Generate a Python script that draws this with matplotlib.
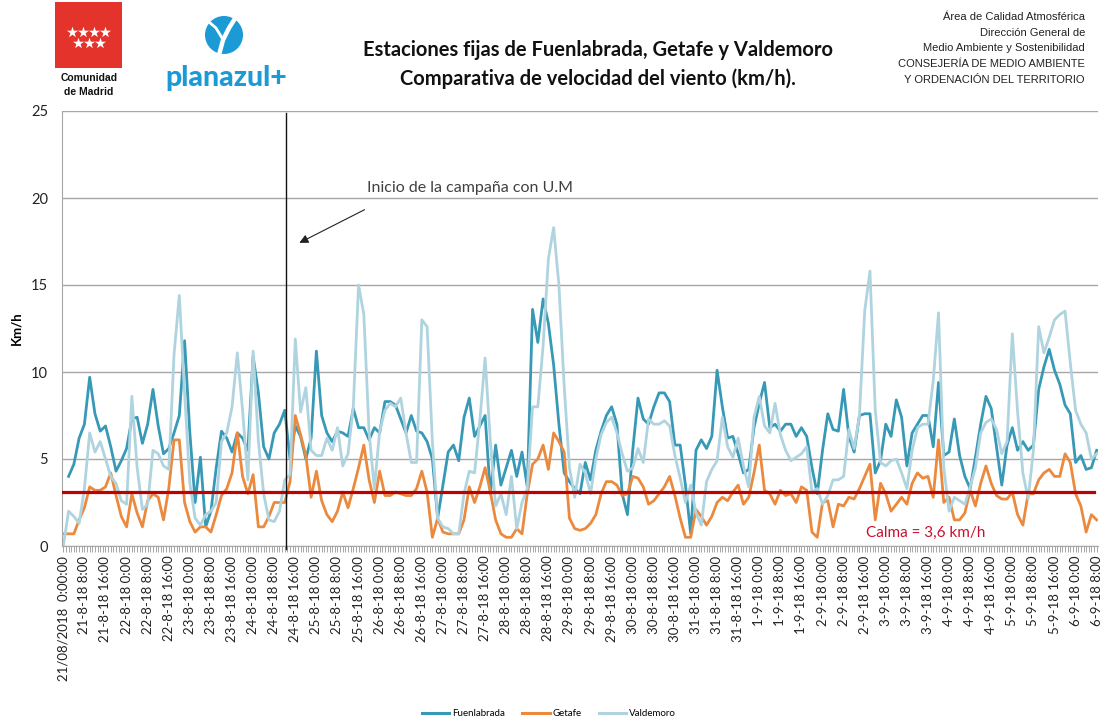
import numpy as np
import pandas as pd
import matplotlib
matplotlib.use("Agg")
import matplotlib.pyplot as plt
from matplotlib.patches import Rectangle, Circle
from matplotlib.lines import Line2D

W, H = 1105, 723

# samples every 2 hours, hour index counted from 21/08/2018 0:00
hours = np.arange(0, 393, 2)

# wind speed (km/h), one row per day (12 samples/day)
fuenlabrada = [
    np.nan, 4.0, 4.7, 6.2, 7.0, 9.7, 7.6, 6.6, 6.9, 5.7, 4.3, 4.9,   # 21-8
    5.6, 7.3, 7.4, 5.9, 7.0, 9.0, 6.9, 5.3, 5.6, 6.5, 7.5, 11.8,     # 22-8
    6.5, 2.5, 5.1, 1.1, 2.0, 4.5, 6.6, 6.2, 5.4, 6.5, 6.2, 5.5,      # 23-8
    10.9, 8.8, 5.7, 5.0, 6.5, 7.0, 7.8, 5.0, 6.9, 6.3, 5.0, 6.2,     # 24-8
    11.2, 7.5, 6.5, 6.0, 6.6, 6.5, 6.3, 7.9, 6.8, 6.8, 6.1, 6.8,     # 25-8
    6.5, 8.3, 8.3, 8.1, 7.3, 6.5, 7.5, 6.6, 6.5, 6.0, 5.0, 1.6,      # 26-8
    3.5, 5.4, 5.8, 4.9, 7.4, 8.5, 6.3, 6.9, 7.5, 3.0, 5.8, 3.5,      # 27-8
    4.5, 5.5, 4.0, 5.4, 3.4, 13.6, 11.7, 14.2, 12.8, 10.4, 7.0, 4.2, # 28-8
    3.7, 3.3, 3.0, 4.8, 3.8, 5.5, 6.6, 7.5, 8.0, 7.0, 3.0, 1.8,      # 29-8
    5.5, 8.5, 7.3, 7.0, 8.0, 8.8, 8.8, 8.3, 5.8, 5.8, 3.5, 0.7,      # 30-8
    5.5, 6.1, 5.6, 6.3, 10.1, 8.0, 6.2, 6.3, 5.3, 4.2, 4.4, 6.8,     # 31-8
    8.2, 9.4, 6.8, 7.0, 6.6, 7.0, 7.0, 6.3, 6.8, 6.3, 4.5, 3.0,      # 1-9
    5.5, 7.6, 6.7, 6.6, 9.0, 6.3, 5.4, 7.5, 7.6, 7.6, 4.2, 4.9,      # 2-9
    7.0, 6.3, 8.4, 7.4, 4.6, 6.5, 7.0, 7.5, 7.5, 5.7, 9.4, 5.2,      # 3-9
    5.4, 7.3, 5.2, 4.0, 3.3, 5.1, 7.0, 8.6, 7.9, 5.7, 3.5, 5.8,      # 4-9
    6.8, 5.5, 6.0, 5.5, 5.8, 9.0, 10.3, 11.3, 10.1, 9.3, 8.1, 7.6,   # 5-9
    4.8, 5.2, 4.4, 4.5, 5.5,                                          # 6-9
]
getafe = [
    0.7, 0.7, 0.7, 1.5, 2.2, 3.4, 3.2, 3.2, 3.4, 4.2, 2.9, 1.7,
    1.1, 3.0, 1.9, 1.1, 2.6, 3.0, 2.8, 1.5, 3.3, 6.1, 6.1, 2.5,
    1.4, 0.8, 1.1, 1.1, 0.8, 1.8, 2.9, 3.3, 4.2, 6.5, 4.0, 3.0,
    4.1, 1.1, 1.1, 1.7, 2.5, 2.5, 2.5, 3.7, 7.5, 6.4, 5.2, 2.8,
    4.3, 2.6, 1.8, 1.4, 2.0, 3.1, 2.2, 3.3, 4.5, 5.8, 3.8, 2.5,
    4.3, 2.9, 2.9, 3.1, 3.0, 2.9, 2.9, 3.3, 4.3, 3.1, 0.5, 1.6,
    0.8, 0.7, 0.7, 0.7, 1.5, 3.4, 2.5, 3.4, 4.5, 3.1, 1.5, 0.7,
    0.5, 0.5, 1.0, 0.7, 3.0, 4.7, 5.0, 5.8, 4.4, 6.5, 6.0, 5.4,
    1.6, 1.0, 0.9, 1.0, 1.3, 1.8, 3.0, 3.7, 3.7, 3.5, 2.9, 3.0,
    4.0, 3.9, 3.4, 2.4, 2.6, 3.0, 3.4, 4.0, 2.9, 1.6, 0.5, 0.5,
    2.1, 1.7, 1.2, 1.7, 2.5, 2.8, 2.6, 3.1, 3.5, 2.4, 2.8, 4.2,
    5.8, 3.2, 3.0, 2.4, 3.2, 2.9, 3.0, 2.5, 3.4, 3.2, 0.8, 0.5,
    2.5, 2.6, 1.1, 2.4, 2.3, 2.8, 2.7, 3.3, 4.0, 4.7, 1.5, 3.6,
    3.0, 2.0, 2.4, 2.8, 2.4, 3.6, 4.2, 3.9, 4.0, 2.8, 6.1, 2.5,
    2.8, 1.5, 1.5, 1.9, 3.2, 2.3, 3.6, 4.6, 3.6, 2.9, 2.7, 2.7,
    3.1, 1.8, 1.2, 3.0, 3.0, 3.8, 4.2, 4.4, 4.0, 4.0, 5.3, 4.8,
    3.0, 2.3, 0.8, 1.8, 1.5,
]
valdemoro = [
    0.0, 2.0, 1.7, 1.3, 3.3, 6.5, 5.4, 6.0, 5.0, 4.0, 3.6, 2.6,
    2.4, 8.6, 4.5, 2.1, 2.4, 5.5, 5.3, 4.6, 4.4, 11.0, 14.4, 8.8,
    3.6, 1.6, 1.2, 1.8, 2.0, 2.5, 6.0, 6.5, 8.0, 11.1, 7.8, 3.8,
    11.2, 6.0, 3.0, 1.5, 1.4, 2.0, 3.8, 4.1, 11.9, 7.7, 9.1, 5.5,
    5.2, 5.2, 6.2, 5.5, 6.8, 4.6, 5.3, 8.0, 15.0, 13.3, 6.5, 3.3,
    6.6, 7.8, 8.2, 8.0, 8.5, 6.5, 4.8, 4.8, 13.0, 12.6, 6.0, 1.6,
    1.1, 1.0, 0.7, 0.7, 3.0, 4.3, 4.2, 7.2, 10.8, 6.0, 2.3, 3.0,
    1.8, 4.0, 1.0, 2.5, 3.3, 8.0, 8.0, 11.5, 16.5, 18.3, 15.0, 9.2,
    4.5, 2.8, 4.7, 4.2, 3.0, 5.0, 6.4, 7.1, 7.4, 6.5, 5.3, 4.3,
    4.5, 5.6, 4.8, 7.3, 7.0, 7.0, 7.2, 6.9, 5.2, 3.9, 2.5, 3.5,
    1.9, 1.2, 3.7, 4.4, 4.9, 7.4, 5.7, 5.1, 6.2, 4.6, 3.4, 7.4,
    8.6, 6.9, 6.5, 8.2, 6.4, 5.5, 4.9, 5.1, 5.3, 5.7, 3.1, 3.3,
    2.4, 2.9, 3.8, 3.8, 4.0, 6.7, 5.6, 7.5, 13.5, 15.8, 7.8, 4.8,
    4.6, 4.9, 5.0, 4.2, 3.3, 5.5, 6.8, 7.0, 7.0, 9.5, 13.4, 4.5,
    2.0, 2.8, 2.6, 2.4, 3.4, 4.5, 6.5, 7.1, 7.3, 6.7, 5.3, 6.0,
    12.2, 7.7, 4.2, 2.7, 5.5, 12.6, 11.1, 12.0, 13.0, 13.3, 13.5, 10.5,
    7.8, 7.0, 6.5, 5.0, 5.3,
]

series_names = ["Fuenlabrada", "Getafe", "Valdemoro"]
series_colors = ["#3799B6", "#EB8A3E", "#AFD4DF"]

calma = 3.1               # drawn level of the calm threshold
calma_label = "Calma = 3,6 km/h"
campaign_start = 84.5     # hour index of the start of the U.M campaign

# category tick labels every 8 hours
start = pd.Timestamp("2018-08-21 00:00")
tick_hours = np.arange(0, 393, 8)
tick_labels = []
for h in tick_hours:
    t = start + pd.Timedelta(hours=int(h))
    tick_labels.append(f"{t.day}-{t.month}-{t:%y} {t.hour}:00")
tick_labels[0] = "21/08/2018  0:00:00"

FONT = "Lato"
plt.rcParams["font.family"] = [FONT, "DejaVu Sans"]

fig = plt.figure(figsize=(W / 100, H / 100), dpi=100)

# header overlay in pixel coordinates
hdr = fig.add_axes([0, 0, 1, 1])
hdr.set_xlim(0, W)
hdr.set_ylim(H, 0)
hdr.axis("off")

# Comunidad de Madrid logo
hdr.add_patch(Rectangle((55, 2), 67, 66, color="#E4332A", lw=0))
hdr.scatter([72, 83, 94, 105], [32, 32, 32, 32], marker="*", s=70, c="white", lw=0)
hdr.scatter([78, 89, 100], [43, 43, 43], marker="*", s=70, c="white", lw=0)
hdr.text(89, 78, "Comunidad", ha="center", va="center", fontsize=7.5,
         fontweight="bold", family="Liberation Sans", color="#111")
hdr.text(89, 92, "de Madrid", ha="center", va="center", fontsize=7.5,
         fontweight="bold", family="Liberation Sans", color="#111")

# planazul+ logo
hdr.add_patch(Circle((224, 35), 19, color="#1B9AD6", lw=0))
hdr.plot([236, 229, 223, 219], [17, 28, 40, 55], color="white", lw=3.2,
         solid_capstyle="round")
hdr.plot([209, 216, 222], [22, 28, 38], color="white", lw=2.0,
         solid_capstyle="round")
hdr.text(165, 86, "planazul+", ha="left", va="baseline", fontsize=20.5,
         fontweight="black", color="#1B9AD6")

# titles
hdr.text(598, 50, "Estaciones fijas de Fuenlabrada, Getafe y Valdemoro",
         ha="center", va="center", fontsize=14.5, fontweight="bold", color="#111")
hdr.text(598, 79, "Comparativa de velocidad del viento (km/h).",
         ha="center", va="center", fontsize=14.5, fontweight="bold", color="#111")

right_lines = ["Área de Calidad Atmosférica", "Dirección General de",
               "Medio Ambiente y Sostenibilidad", "CONSEJERÍA DE MEDIO AMBIENTE",
               "Y ORDENACIÓN DEL TERRITORIO"]
for y, s in zip([17, 33, 48, 64, 80], right_lines):
    hdr.text(1085, y, s, ha="right", va="center", fontsize=8,
             family="Liberation Sans", color="#222")

# main chart
ax = fig.add_axes([62 / W, 1 - 546 / H, (1098 - 62) / W, (546 - 111) / H])
for vals, name, col in zip([fuenlabrada, getafe, valdemoro], series_names, series_colors):
    ax.plot(hours, vals, color=col, lw=2.0, label=name, solid_joinstyle="round")

ax.axhline(calma, xmin=0, xmax=0.996, color="#C00000", lw=2.3, zorder=5)
ax.text(304.5, 0.75, calma_label, color="#C8102E", fontsize=11, va="center", ha="left")

ax.plot([campaign_start, campaign_start], [24.9, -0.15], color="#111", lw=1.0,
        clip_on=False, zorder=6)
ax.annotate("", xy=(88.6, 17.35), xytext=(115.2, 19.4),
            arrowprops=dict(arrowstyle="-|>", color="#222", lw=0.8, mutation_scale=13))
ax.text(115.2, 20.6, "Inicio de la campaña con U.M", fontsize=11.5,
        color="#404040", va="center", ha="left")

ax.set_xlim(-0.5, 392.5)
ax.set_ylim(0, 25)
ax.set_yticks([0, 5, 10, 15, 20, 25])
ax.yaxis.grid(True, color="#A6A6A6", lw=1.0)
ax.set_axisbelow(True)
for s in ["top", "right"]:
    ax.spines[s].set_visible(False)
for s in ["left", "bottom"]:
    ax.spines[s].set_color("#A6A6A6")
ax.tick_params(axis="y", length=0, pad=10, labelsize=10.5, labelcolor="#222")

ax.set_xticks(tick_hours)
ax.set_xticklabels(tick_labels, rotation=90, fontsize=9.5, color="#222")
ax.set_xticks(np.arange(0, 393), minor=True)
ax.tick_params(axis="x", which="both", length=4, width=0.7, color="#A6A6A6", pad=3)
ax.set_ylabel("Km/h", fontsize=9.5, fontweight="bold", labelpad=6)

handles = [Line2D([], [], color=c, lw=2.2) for c in series_colors]
fig.legend(handles, series_names, loc="center", bbox_to_anchor=(549 / W, 1 - 714 / H),
           ncol=3, frameon=False, fontsize=7, handlelength=2.8,
           handletextpad=0.3, columnspacing=1.8)

fig.savefig("out.png", dpi=100)
